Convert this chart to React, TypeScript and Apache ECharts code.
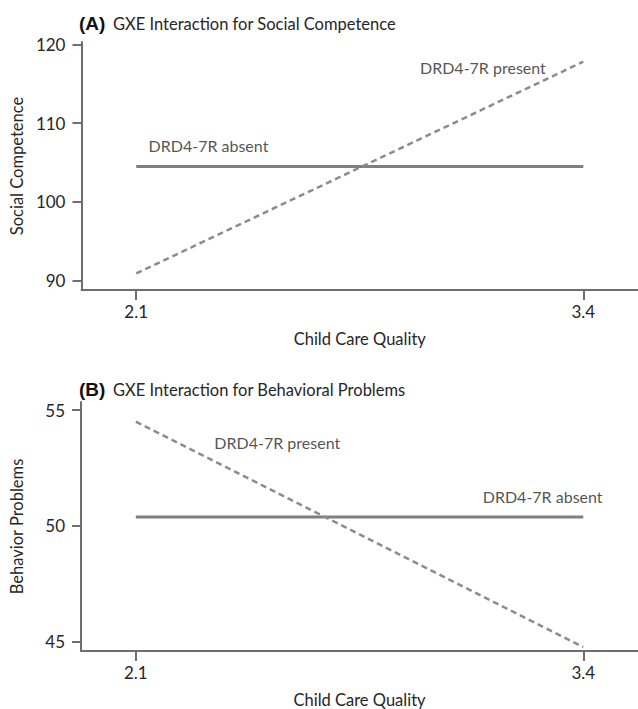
import React, { useEffect, useRef } from "react";
import * as echarts from "echarts";

const xTicks = [2.1, 3.4];
const xRange = [1.9408, 3.559];

const socialTicks = [90, 100, 110, 120];
const socialRange = [88.8, 120.3];
const socialAbsent = [[2.1, 104.5], [3.4, 104.5]];
const socialPresent = [[2.1, 90.9], [3.4, 117.8]];
const socialLabels = [
  { name: "DRD4-7R absent", value: [2.31, 107.2] },
  { name: "DRD4-7R present", value: [3.108, 117.1] },
];

const behaviorTicks = [45, 50, 55];
const behaviorRange = [44.59, 55.35];
const behaviorAbsent = [[2.1, 50.38], [3.4, 50.38]];
const behaviorPresent = [[2.1, 54.5], [3.4, 44.76]];
const behaviorLabels = [
  { name: "DRD4-7R present", value: [2.511, 53.6] },
  { name: "DRD4-7R absent", value: [3.282, 51.28] },
];

const FONT = "Lato";
const AXIS = "#6e6e6e";
const TEXT = "#262626";

function xAxisFor(gridIndex: number, nameGap: number) {
  return {
    type: "value",
    gridIndex,
    min: xRange[0],
    max: xRange[1],
    name: "Child Care Quality",
    nameLocation: "middle",
    nameGap,
    nameTextStyle: { color: TEXT, fontFamily: FONT, fontSize: 16.5 },
    axisLine: { show: true, lineStyle: { color: AXIS, width: 2 } },
    axisTick: { show: true, length: 10, lineStyle: { color: AXIS, width: 2 }, customValues: xTicks },
    axisLabel: { show: true, color: TEXT, fontFamily: FONT, fontSize: 17, margin: 13, customValues: xTicks },
    splitLine: { show: false },
  };
}

function yAxisFor(gridIndex: number, range: number[], ticks: number[], name: string) {
  return {
    type: "value",
    gridIndex,
    min: range[0],
    max: range[1],
    name,
    nameLocation: "middle",
    nameGap: 56,
    nameTextStyle: { color: TEXT, fontFamily: FONT, fontSize: 16.5 },
    axisLine: { show: true, lineStyle: { color: AXIS, width: 2 } },
    axisTick: { show: true, length: 9, lineStyle: { color: AXIS, width: 2 }, customValues: ticks },
    axisLabel: { show: true, color: TEXT, fontFamily: FONT, fontSize: 17, margin: 16, customValues: ticks },
    splitLine: { show: false },
  };
}

function lineSeries(idx: number, data: number[][], dashed: boolean) {
  return {
    type: "line",
    xAxisIndex: idx,
    yAxisIndex: idx,
    data,
    symbol: "none",
    silent: true,
    lineStyle: dashed
      ? { color: "#8c8c8c", width: 2.5, type: [6, 4] }
      : { color: "#7f7f7f", width: 3, type: "solid" },
  };
}

function labelSeries(idx: number, data: { name: string; value: number[] }[]) {
  return {
    type: "scatter",
    xAxisIndex: idx,
    yAxisIndex: idx,
    data,
    symbolSize: 0,
    silent: true,
    label: {
      show: true,
      position: "inside",
      formatter: "{b}",
      color: TEXT,
      fontFamily: FONT,
      fontSize: 16,
    },
  };
}

export default function App() {
  const ref = useRef<HTMLDivElement>(null);
  useEffect(() => {
    document.body.style.margin = "0";
    const chart = echarts.init(ref.current!, undefined, { renderer: "svg" });
    chart.setOption({
      animation: false,
      backgroundColor: "#ffffff",
      grid: [
        { left: 79, right: 0, top: 42, height: 248 },
        { left: 79, right: 0, top: 402, height: 254 },
      ],
      xAxis: [xAxisFor(0, 40), xAxisFor(1, 40)],
      yAxis: [
        yAxisFor(0, socialRange, socialTicks, "Social Competence"),
        yAxisFor(1, behaviorRange, behaviorTicks, "Behavior Problems"),
      ],
      graphic: [
        { type: "text", left: 79, top: 14, style: { text: "(A)", font: "bold 19px 'Liberation Sans'", fill: "#111" } },
        { type: "text", left: 113, top: 15, style: { text: "GXE Interaction for Social Competence", font: `16.5px ${FONT}`, fill: TEXT } },
        { type: "text", left: 79, top: 380, style: { text: "(B)", font: "bold 19px 'Liberation Sans'", fill: "#111" } },
        { type: "text", left: 113, top: 381, style: { text: "GXE Interaction for Behavioral Problems", font: `16.5px ${FONT}`, fill: TEXT } },
      ],
      series: [
        lineSeries(0, socialAbsent, false),
        lineSeries(0, socialPresent, true),
        labelSeries(0, socialLabels),
        lineSeries(1, behaviorAbsent, false),
        lineSeries(1, behaviorPresent, true),
        labelSeries(1, behaviorLabels),
      ],
    });
    return () => chart.dispose();
  }, []);
  return <div ref={ref} style={{ width: 638, height: 709 }} />;
}
